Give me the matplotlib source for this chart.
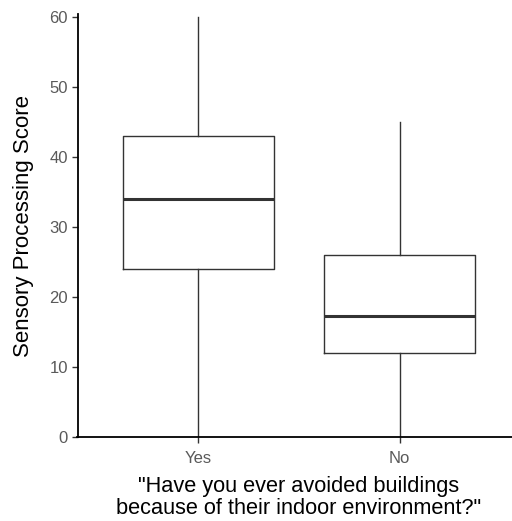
import matplotlib.pyplot as plt

# box statistics
groups = ["Yes", "No"]
whislo = [0, 0]
q1 = [24, 12]
med = [34.1, 17.4]
q3 = [43, 26]
whishi = [60, 45]

plt.rcParams['font.family'] = ['Liberation Sans', 'DejaVu Sans']

fig = plt.figure(figsize=(5.12, 5.21), dpi=100)
W, H = 512, 521
left, right = 77.5, 520.6
bottom, top = 437.3, 14.5
ax = fig.add_axes([left / W, (H - bottom) / H, (right - left) / W, (bottom - top) / H])

stats = []
for i, g in enumerate(groups):
    stats.append(dict(label=g, whislo=whislo[i], q1=q1[i], med=med[i],
                      q3=q3[i], whishi=whishi[i], fliers=[]))

ax.bxp(stats, positions=[1, 2], widths=0.75, showcaps=False, showfliers=False,
       boxprops=dict(color='#333333', linewidth=1.0),
       whiskerprops=dict(color='#333333', linewidth=1.0),
       medianprops=dict(color='#333333', linewidth=2.2))

ax.set_xlim(0.4, 2.6)
ax.set_ylim(0, 60.4)
ax.set_yticks([0, 10, 20, 30, 40, 50, 60])
ax.set_xticks([1, 2])
ax.set_xticklabels(groups)

for s in ['top', 'right']:
    ax.spines[s].set_visible(False)
for s in ['left', 'bottom']:
    ax.spines[s].set_linewidth(1.3)
    ax.spines[s].set_color('black')

ax.tick_params(axis='both', length=4, width=1.0, color='#333333',
               labelsize=12, labelcolor='#5a5a5a', pad=3)
ax.tick_params(axis='x', pad=6)

ax.set_ylabel("Sensory Processing Score", fontsize=16, color='black', labelpad=11)
ax.set_xlabel('"Have you ever avoided buildings\nbecause of their indoor environment?"',
              fontsize=15.7, color='black', labelpad=7, linespacing=1.07)

fig.savefig("out.png", dpi=100)
